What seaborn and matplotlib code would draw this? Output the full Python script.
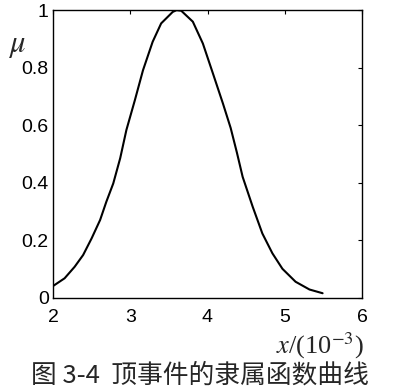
import matplotlib
matplotlib.use('Agg')
import matplotlib.pyplot as plt
import seaborn as sns
import pandas as pd

# values
x_vals = [2.0, 2.15, 2.28, 2.39, 2.50, 2.61, 2.69, 2.78, 2.87, 2.95, 3.06, 3.165,
          3.29, 3.40, 3.55, 3.60, 3.66, 3.81, 3.94, 4.07, 4.20, 4.30, 4.38, 4.455,
          4.585, 4.71, 4.84, 4.97, 5.14, 5.32, 5.49]
mu_vals = [0.040, 0.067, 0.107, 0.148, 0.206, 0.270, 0.333, 0.397, 0.485, 0.583, 0.687, 0.791,
           0.890, 0.954, 0.994, 1.0, 0.998, 0.960, 0.884, 0.780, 0.675, 0.590, 0.505, 0.420,
           0.316, 0.223, 0.154, 0.100, 0.055, 0.028, 0.015]
x_ticks = [2, 3, 4, 5, 6]
y_ticks = [0, 0.2, 0.4, 0.6, 0.8, 1]
y_ticklabels = ['0', '0.2', '0.4', '0.6', '0.8', '1']
caption = '图 3-4  顶事件的隶属函数曲线'

sns.set_style('white')
plt.rcParams['font.family'] = ['Liberation Sans', 'DejaVu Sans']
plt.rcParams['mathtext.fontset'] = 'stix'

df = pd.DataFrame({'x': x_vals, 'mu': mu_vals})

fig = plt.figure(figsize=(4.0, 3.91), dpi=100)
ax = fig.add_axes([0.1325, 0.239, 0.7725, 0.735])
sns.lineplot(data=df, x='x', y='mu', color='black', linewidth=1.5, ax=ax)

ax.set_xlim(2, 6)
ax.set_ylim(0, 1)
ax.set_xticks(x_ticks)
ax.set_yticks(y_ticks)
ax.set_yticklabels(y_ticklabels)
ax.set_xlabel('')
ax.set_ylabel('')
ax.tick_params(direction='in', length=3, width=0.8, top=True, right=True,
               labelsize=14, colors='black')
ax.tick_params(axis='x', pad=8)
ax.tick_params(axis='y', pad=3)
for s in ax.spines.values():
    s.set_color('black')
    s.set_linewidth(1.0)

fig.text(0.02, 0.885, r'$\mu$', fontsize=22, ha='left', va='center')
fig.text(0.91, 0.115, r'$x$/(10$^{-3}$)', fontsize=19, ha='right', va='center',
         family=['Liberation Serif', 'DejaVu Serif'])
fig.text(0.5, 0.04, caption, fontsize=18.5, ha='center', va='center',
         family=['Noto Sans CJK SC', 'DejaVu Sans'])

fig.savefig('out.png', dpi=100)
